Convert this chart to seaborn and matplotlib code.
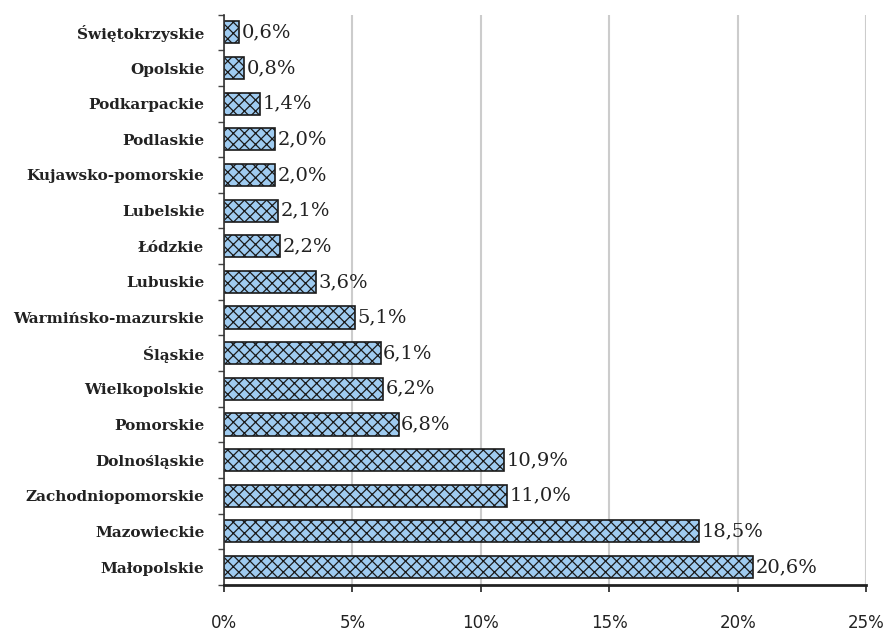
import matplotlib
matplotlib.use("Agg")
import matplotlib.pyplot as plt
import seaborn as sns
import pandas as pd

regions = ["Świętokrzyskie", "Opolskie", "Podkarpackie", "Podlaskie", "Kujawsko-pomorskie",
           "Lubelskie", "Łódzkie", "Lubuskie", "Warmińsko-mazurskie", "Śląskie",
           "Wielkopolskie", "Pomorskie", "Dolnośląskie", "Zachodniopomorskie",
           "Mazowieckie", "Małopolskie"]
values = [0.6, 0.8, 1.4, 2.0, 2.0, 2.1, 2.2, 3.6, 5.1, 6.1, 6.2, 6.8, 10.9, 11.0, 18.5, 20.6]
xticks = [0, 5, 10, 15, 20, 25]
xtick_labels = ["0%", "5%", "10%", "15%", "20%", "25%"]

df = pd.DataFrame({"region": regions, "value": values})

sns.set_theme(style="white")
plt.rcParams['hatch.color'] = '#3a4d63'
plt.rcParams['hatch.linewidth'] = 0.9

fig = plt.figure(figsize=(8.85, 6.35), dpi=100)
ax = fig.add_axes([0.253, 0.079, 0.726, 0.898])

sns.barplot(data=df, x="value", y="region", order=regions, orient="h",
            color="#9fcbf0", saturation=1, width=0.62, ax=ax,
            edgecolor="#1a1a1a", linewidth=1.2)
for p in ax.patches:
    p.set_hatch("xxx")

ax.set_xlim(0, 25)
ax.set_ylim(15.5, -0.5)
ax.set_xticks(xticks)
ax.set_xticklabels(xtick_labels, fontsize=12, color="#222222", family="DejaVu Sans")
ax.tick_params(axis="x", direction="out", length=5, width=1.2, color="#222222", pad=16, bottom=True)
ax.set_yticks(range(len(regions)))
ax.set_yticklabels(regions, fontsize=11, fontweight="bold", family="DejaVu Serif", color="#222222")
ax.tick_params(axis="y", length=0, pad=14)
ax.set_yticks([i - 0.5 for i in range(len(regions) + 1)], minor=True)
ax.tick_params(axis="y", which="minor", direction="out", length=4, width=1.0, color="#444444", left=True)

ax.grid(axis="x", color="#cccccc", linewidth=1.5)
ax.grid(axis="y", visible=False)
ax.set_axisbelow(True)
for s in ["top", "right"]:
    ax.spines[s].set_visible(False)
ax.spines["left"].set_color("#333333")
ax.spines["left"].set_linewidth(1.2)
ax.spines["bottom"].set_color("#222222")
ax.spines["bottom"].set_linewidth(2)
ax.set_xlabel("")
ax.set_ylabel("")

for i, v in enumerate(values):
    ax.text(v + 0.1, i, f"{v:.1f}%".replace(".", ","), va="center", ha="left",
            fontsize=14, family="DejaVu Serif", color="#222222")

fig.savefig("out.png", dpi=100)
